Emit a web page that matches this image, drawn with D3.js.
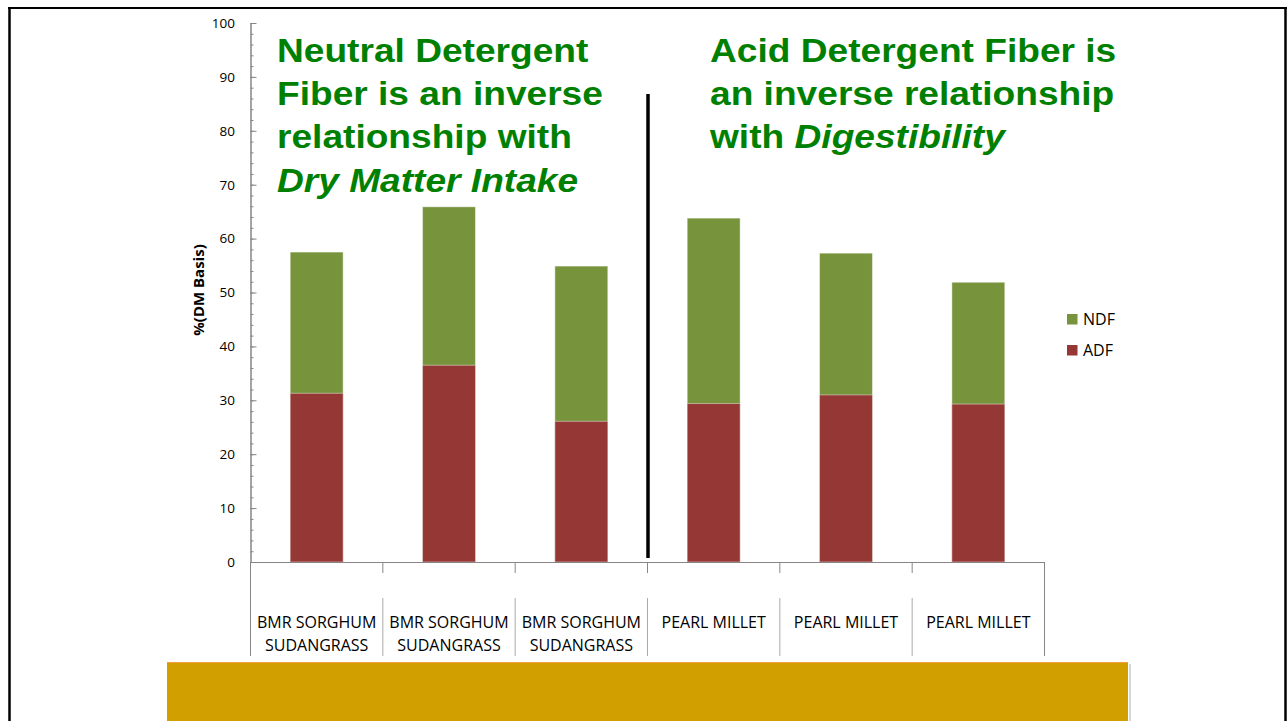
<!DOCTYPE html>
<html>
<head>
<meta charset="utf-8">
<script src="https://cdn.jsdelivr.net/npm/d3@7"></script>
<style>
  html, body { margin: 0; padding: 0; background: #fff; }
  svg { display: block; }
</style>
</head>
<body>
<svg id="chart" width="1288" height="721"></svg>
<script>
// ---- data ----
const categories = ["BMR SORGHUM\nSUDANGRASS", "BMR SORGHUM\nSUDANGRASS", "BMR SORGHUM\nSUDANGRASS",
                    "PEARL MILLET", "PEARL MILLET", "PEARL MILLET"];
const ndfValues = [57.5, 65.9, 54.9, 63.8, 57.3, 51.9];
const adfValues = [31.3, 36.5, 26.1, 29.4, 31.0, 29.3];
const seriesNames = ["NDF", "ADF"];
const seriesColors = ["#77933C", "#953735"];
const yTicks = [0, 10, 20, 30, 40, 50, 60, 70, 80, 90, 100];
const yTitle = "%(DM Basis)";
const leftNote = ["Neutral Detergent", "Fiber is an inverse", "relationship with", "Dry Matter Intake"];
const rightNote = ["Acid Detergent Fiber is", "an inverse relationship", "with |Digestibility"];

// ---- layout ----
const svg = d3.select("#chart");
const W = 1288, H = 721;
const plot = { left: 250.5, right: 1044.5, top: 23, bottom: 562 };
const axisColor = "#868686";
const textFont = "'Open Sans', 'Liberation Sans', sans-serif";

svg.append("rect").attr("width", W).attr("height", H).attr("fill", "#fff");

// frame
svg.append("line").attr("x1", 8).attr("x2", 1287).attr("y1", 8).attr("y2", 8)
  .attr("stroke", "#000").attr("stroke-width", 2);
svg.append("line").attr("x1", 9.5).attr("x2", 9.5).attr("y1", 7).attr("y2", H)
  .attr("stroke", "#000").attr("stroke-width", 2.5);
svg.append("line").attr("x1", 1285.5).attr("x2", 1285.5).attr("y1", 7).attr("y2", H)
  .attr("stroke", "#000").attr("stroke-width", 2.5);

const idx = d3.range(categories.length);
const x = d3.scaleBand().domain(idx).range([plot.left, plot.right])
  .paddingInner(0.6).paddingOuter(0.3);
const xCat = d3.scaleBand().domain(idx).range([plot.left, plot.right]).padding(0);
const y = d3.scaleLinear().domain([0, 100]).range([plot.bottom, plot.top]);

// bars: NDF (full height) behind, ADF in front
const barStroke = "rgba(255,255,255,0.45)";
svg.append("g").selectAll("rect").data(idx).join("rect")
  .attr("x", i => x(i)).attr("width", x.bandwidth())
  .attr("y", i => y(ndfValues[i])).attr("height", i => y(0) - y(ndfValues[i]))
  .attr("fill", seriesColors[0]).attr("stroke", barStroke).attr("stroke-width", 1);
svg.append("g").selectAll("rect").data(idx).join("rect")
  .attr("x", i => x(i)).attr("width", x.bandwidth())
  .attr("y", i => y(adfValues[i])).attr("height", i => y(0) - y(adfValues[i]))
  .attr("fill", seriesColors[1]).attr("stroke", barStroke).attr("stroke-width", 1);

// y axis: minor ticks
const yMinor = svg.append("g").attr("transform", `translate(${plot.left},0)`)
  .call(d3.axisLeft(y).tickValues(d3.range(0, 101, 2)).tickSize(-3).tickSizeOuter(0).tickFormat(""));
yMinor.select(".domain").attr("stroke", axisColor);
yMinor.selectAll(".tick line").attr("stroke", axisColor);
// y axis: major ticks & labels
const yAxis = svg.append("g").attr("transform", `translate(${plot.left},0)`)
  .call(d3.axisLeft(y).tickValues(yTicks).tickSize(-6).tickSizeOuter(0).tickPadding(15.5));
yAxis.select(".domain").attr("stroke", axisColor);
yAxis.selectAll(".tick line").attr("stroke", axisColor);
yAxis.selectAll(".tick text").attr("font-family", textFont).attr("font-size", 13.5)
  .attr("fill", "#000");

// y title
svg.append("text").attr("transform", "translate(204,290) rotate(-90)")
  .attr("text-anchor", "middle").attr("font-family", textFont).attr("font-weight", "bold")
  .attr("font-size", 15).attr("fill", "#000").text(yTitle);

// x axis line
const xAxis = svg.append("g").attr("transform", `translate(0,${plot.bottom})`)
  .call(d3.axisBottom(xCat).tickSize(0).tickSizeOuter(0).tickFormat(""));
xAxis.select(".domain").attr("stroke", axisColor);

// category dividers
const edges = idx.map(i => xCat(i)).concat([plot.right]);
edges.forEach((ex, k) => {
  if (k === 0 || k === edges.length - 1) {
    svg.append("line").attr("x1", ex).attr("x2", ex).attr("y1", plot.bottom).attr("y2", 656)
      .attr("stroke", axisColor).attr("stroke-width", 1);
  } else {
    svg.append("line").attr("x1", ex).attr("x2", ex).attr("y1", plot.bottom).attr("y2", 573)
      .attr("stroke", axisColor).attr("stroke-width", 1);
    svg.append("line").attr("x1", ex).attr("x2", ex).attr("y1", 598).attr("y2", 656)
      .attr("stroke", "#aaa").attr("stroke-width", 1);
  }
});

// category labels
idx.forEach(i => {
  const lines = categories[i].split("\n");
  const t = svg.append("text").attr("text-anchor", "middle")
    .attr("font-family", textFont).attr("font-size", 16).attr("fill", "#000");
  lines.forEach((ln, j) => {
    t.append("tspan").attr("x", xCat(i) + xCat.bandwidth() / 2)
      .attr("y", 628 + j * 23).text(ln);
  });
});

// legend
const legend = svg.append("g");
seriesNames.forEach((name, k) => {
  const ly = 314 + k * 31;
  legend.append("rect").attr("x", 1067).attr("y", ly).attr("width", 10.5).attr("height", 10.5)
    .attr("fill", seriesColors[k]);
  legend.append("text").attr("x", 1083).attr("y", ly + 11)
    .attr("font-family", textFont).attr("font-size", 16).attr("fill", "#000").text(name);
});

// divider line between groups
svg.append("line").attr("x1", 648).attr("x2", 648).attr("y1", 94).attr("y2", 558)
  .attr("stroke", "#000").attr("stroke-width", 3.5);

// green annotations
function note(lines, x0, italicFrom) {
  const g = svg.append("g").attr("transform", `translate(${x0},0) scale(1.125,1)`);
  lines.forEach((ln, j) => {
    const t = g.append("text").attr("x", 0).attr("y", 62 + j * 43.2)
      .attr("font-family", "'Liberation Sans', Arial, sans-serif").attr("font-weight", "bold")
      .attr("font-size", 33).attr("fill", "#008000");
    const parts = ln.split("|");
    if (italicFrom(j) === "all") {
      t.attr("font-style", "italic").text(ln);
    } else if (parts.length > 1) {
      t.append("tspan").text(parts[0]);
      t.append("tspan").attr("font-style", "italic").text(parts[1]);
    } else {
      t.text(ln);
    }
  });
}
note(leftNote, 277, j => (j === 3 ? "all" : "none"));
note(rightNote, 710, j => "none");

// gold bar at bottom
svg.append("rect").attr("x", 1129).attr("y", 664).attr("width", 2).attr("height", H - 664)
  .attr("fill", "#d8d8d8");
svg.append("rect").attr("x", 167).attr("y", 662).attr("width", 961).attr("height", H - 662)
  .attr("fill", "#D29F00");
svg.append("line").attr("x1", 167).attr("x2", 1128).attr("y1", 662.5).attr("y2", 662.5)
  .attr("stroke", "#F5A040").attr("stroke-width", 1);
</script>
</body>
</html>
